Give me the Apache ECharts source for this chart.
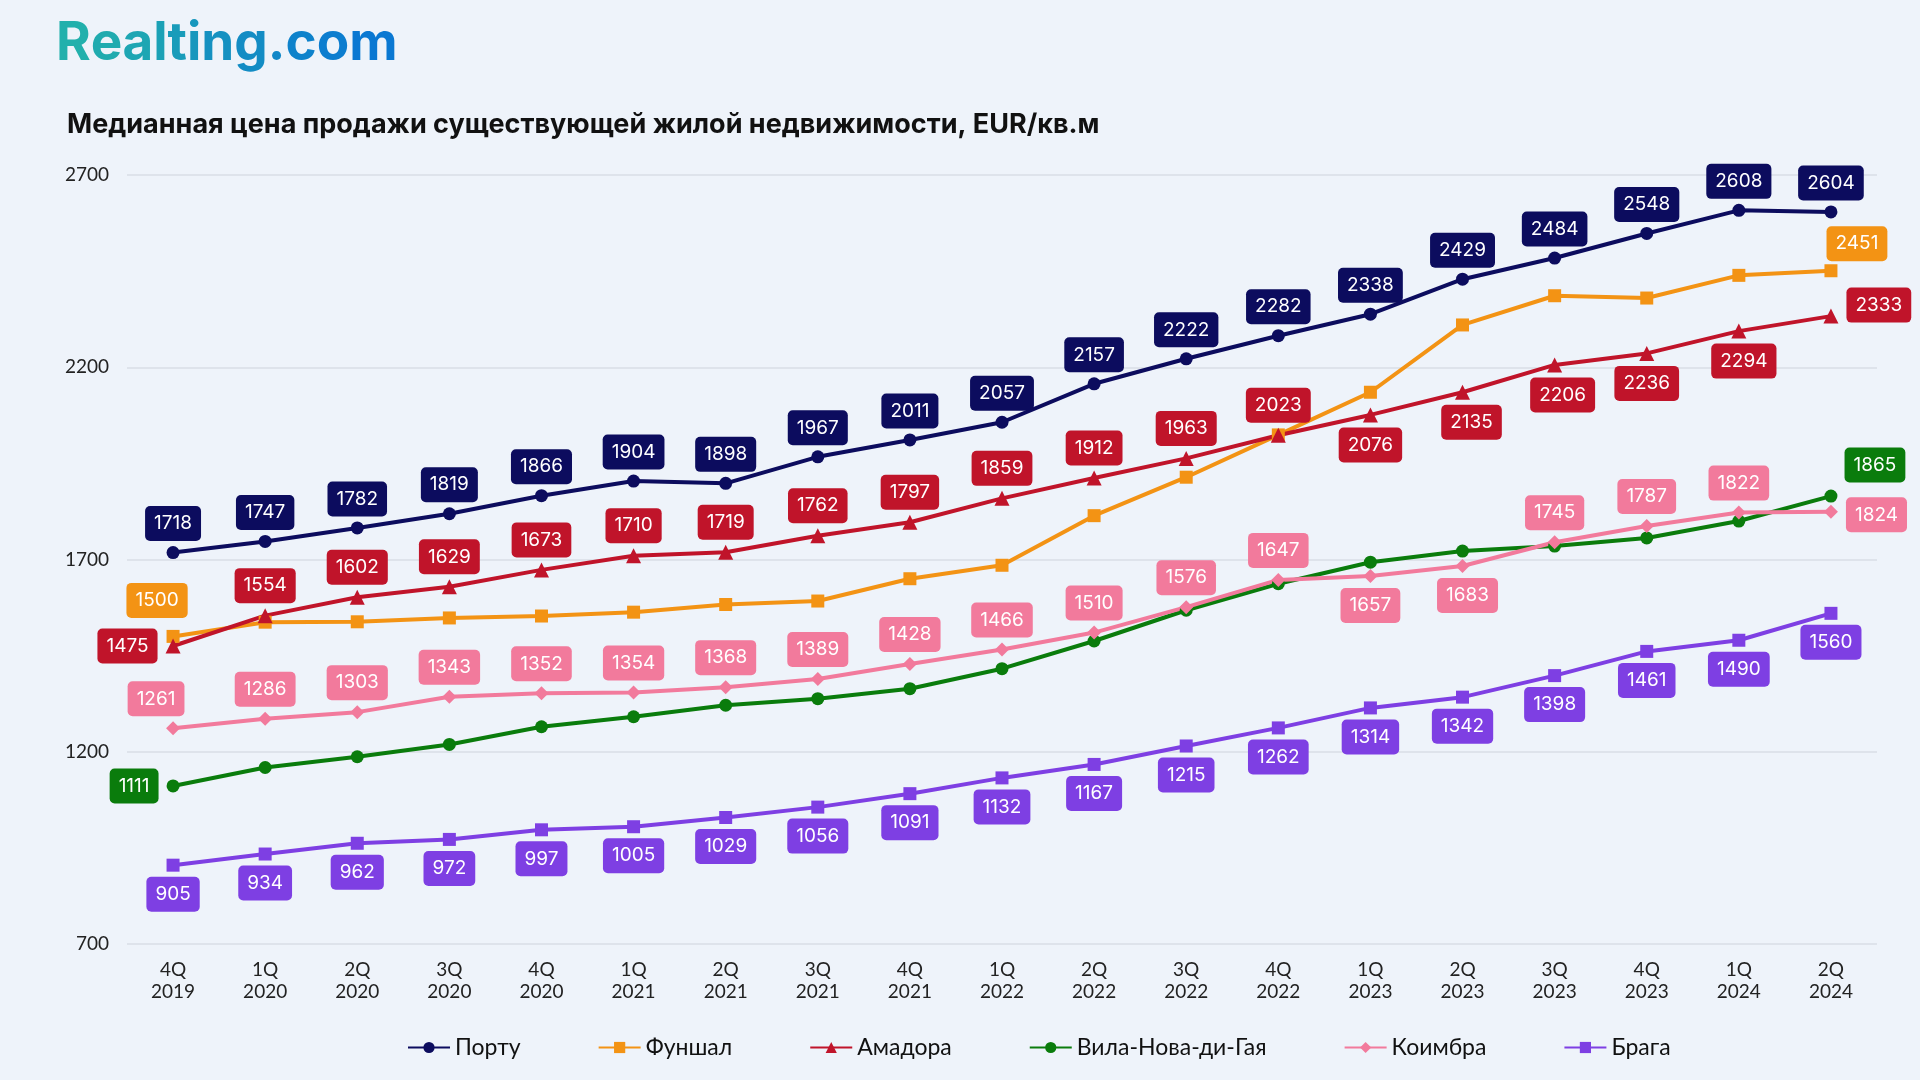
<!DOCTYPE html>
<html>
<head>
<meta charset="utf-8">
<script src="https://cdn.jsdelivr.net/npm/echarts@6/dist/echarts.min.js"></script>
<style>
html,body{margin:0;padding:0;background:#eef3fa;}
#chart{width:1920px;height:1080px;}
</style>
</head>
<body>
<div id="chart"></div>
<script>
const categories = ['4Q\n2019','1Q\n2020','2Q\n2020','3Q\n2020','4Q\n2020','1Q\n2021','2Q\n2021','3Q\n2021','4Q\n2021','1Q\n2022','2Q\n2022','3Q\n2022','4Q\n2022','1Q\n2023','2Q\n2023','3Q\n2023','4Q\n2023','1Q\n2024','2Q\n2024'];
const porto   = [1718,1747,1782,1819,1866,1904,1898,1967,2011,2057,2157,2222,2282,2338,2429,2484,2548,2608,2604];
const funchal = [1500,1537,1538,1548,1553,1563,1583,1592,1650,1685,1814,1914,2024,2135,2310,2386,2380,2439,2451];
const amadora = [1475,1554,1602,1629,1673,1710,1719,1762,1797,1859,1912,1963,2023,2076,2135,2206,2236,2294,2333];
const gaia    = [1111,1159,1187,1219,1265,1291,1321,1338,1364,1416,1488,1568,1637,1693,1722,1735,1756,1800,1865];
const coimbra = [1261,1286,1303,1343,1352,1354,1368,1389,1428,1466,1510,1576,1647,1657,1683,1745,1787,1822,1824];
const braga   = [905,934,962,972,997,1005,1029,1056,1091,1132,1167,1215,1262,1314,1342,1398,1461,1490,1560];
const seriesNames = ['Порту','Фуншал','Амадора','Вила-Нова-ди-Гая','Коимбра','Брага'];
const yTicks = [700,1200,1700,2200,2700];

// label placement per point (layout, separate from data)
const T='top',B='bottom',L='left',R='right',N=null;
function fill(p,n){return Array(n).fill(p);}
const place = {
  porto: fill(T,19),
  funchal: [T].concat(fill(N,17),[T]),
  amadora: [L].concat(fill(T,12),fill(B,5),[R]),
  gaia: [L].concat(fill(N,17),[T]),
  coimbra: [T].concat(fill(T,12),[B,B],fill(T,3),[R]),
  braga: fill(B,19)
};
const offs = {
  funchal: {0:[-16,-7],18:[26,2]},
  amadora: {14:[9,0],15:[8,0],17:[5,0],18:[0,-11]},
  gaia: {18:[44,-2]},
  coimbra: {0:[-17,0],14:[5,0],18:[0,3]}
};

const FONT = 'Inter, "Noto Sans", sans-serif';
const AXFONT = 'Lato, "Noto Sans", sans-serif';
function mk(name, values, key, color, symbol, symSize){
  const data = values.map((v,i)=>{
    const p = place[key][i];
    const o = (offs[key]||{})[i] || [0,0];
    const item = {value:v};
    if(p){
      item.label = {show:true, position:p, offset:o, distance: (p===L||p===R)?8:5};
    } else {
      item.label = {show:false};
    }
    return item;
  });
  return {
    name, type:'line', data, symbol, symbolSize:symSize,
    lineStyle:{color, width:4}, itemStyle:{color},
    emphasis:{disabled:true},
    label:{
      color:'#ffffff', backgroundColor:color, borderRadius:5,
      padding:[8,9,8,9], fontSize:19, lineHeight:19, fontFamily:FONT
    },
    animation:false
  };
}

// logo: per-letter colours approximating the teal→blue gradient
const logoText = 'Realting.com';
const c0 = [0x22,0xb0,0xac], c1 = [0x0a,0x78,0xd2];
const rich = {};
let logoStr = '';
for(let i=0;i<logoText.length;i++){
  const t = i/(logoText.length-1);
  const c = c0.map((a,k)=>Math.round(a+(c1[k]-a)*t));
  rich['c'+i] = {fill:'rgb('+c.join(',')+')', fontSize:53, fontWeight:'bold', fontFamily:FONT};
  logoStr += '{c'+i+'|'+logoText[i]+'}';
}

const chart = echarts.init(document.getElementById('chart'), null, {renderer:'canvas'});
chart.setOption({
  backgroundColor:'#eef3fa',
  animation:false,
  graphic:[
    {type:'text', left:56, top:18, style:{
      text:logoStr, rich:rich, fontSize:53, fontWeight:'bold', fontFamily:FONT, fill:'#1a93c0'
    }},
    {type:'text', left:67, top:111, style:{
      text:'Медианная цена продажи существующей жилой недвижимости, EUR/кв.м',
      fontSize:27, fontWeight:'bold', fontFamily:FONT, fill:'#111111'
    }}
  ],
  legend:{
    data:seriesNames, left:402, top:1031, itemWidth:42, itemHeight:14, itemGap:77,
    textStyle:{fontSize:23, color:'#111', fontFamily:AXFONT}
  },
  grid:{left:127, right:43, top:175, bottom:136, containLabel:false},
  xAxis:{
    type:'category', data:categories, boundaryGap:true,
    axisLine:{show:false}, axisTick:{show:false},
    axisLabel:{color:'#222', fontSize:19, lineHeight:22, margin:15, fontFamily:AXFONT, interval:0}
  },
  yAxis:{
    type:'value', min:yTicks[0], max:yTicks[yTicks.length-1], interval:500,
    axisLine:{show:false}, axisTick:{show:false},
    axisLabel:{color:'#222', fontSize:19, margin:18, fontFamily:AXFONT, formatter:(v)=>String(v)},
    splitLine:{lineStyle:{color:'#d9dee6', width:1.5}}
  },
  series:[
    mk(seriesNames[0], porto, 'porto', '#0c0c5e', 'circle', 13),
    mk(seriesNames[1], funchal, 'funchal', '#f39314', 'rect', 13),
    mk(seriesNames[2], amadora, 'amadora', '#c0142a', 'triangle', 15),
    mk(seriesNames[3], gaia, 'gaia', '#0a7c0c', 'circle', 13),
    mk(seriesNames[4], coimbra, 'coimbra', '#f27a9c', 'diamond', 14),
    mk(seriesNames[5], braga, 'braga', '#7e3fe3', 'rect', 13)
  ]
});
</script>
</body>
</html>
